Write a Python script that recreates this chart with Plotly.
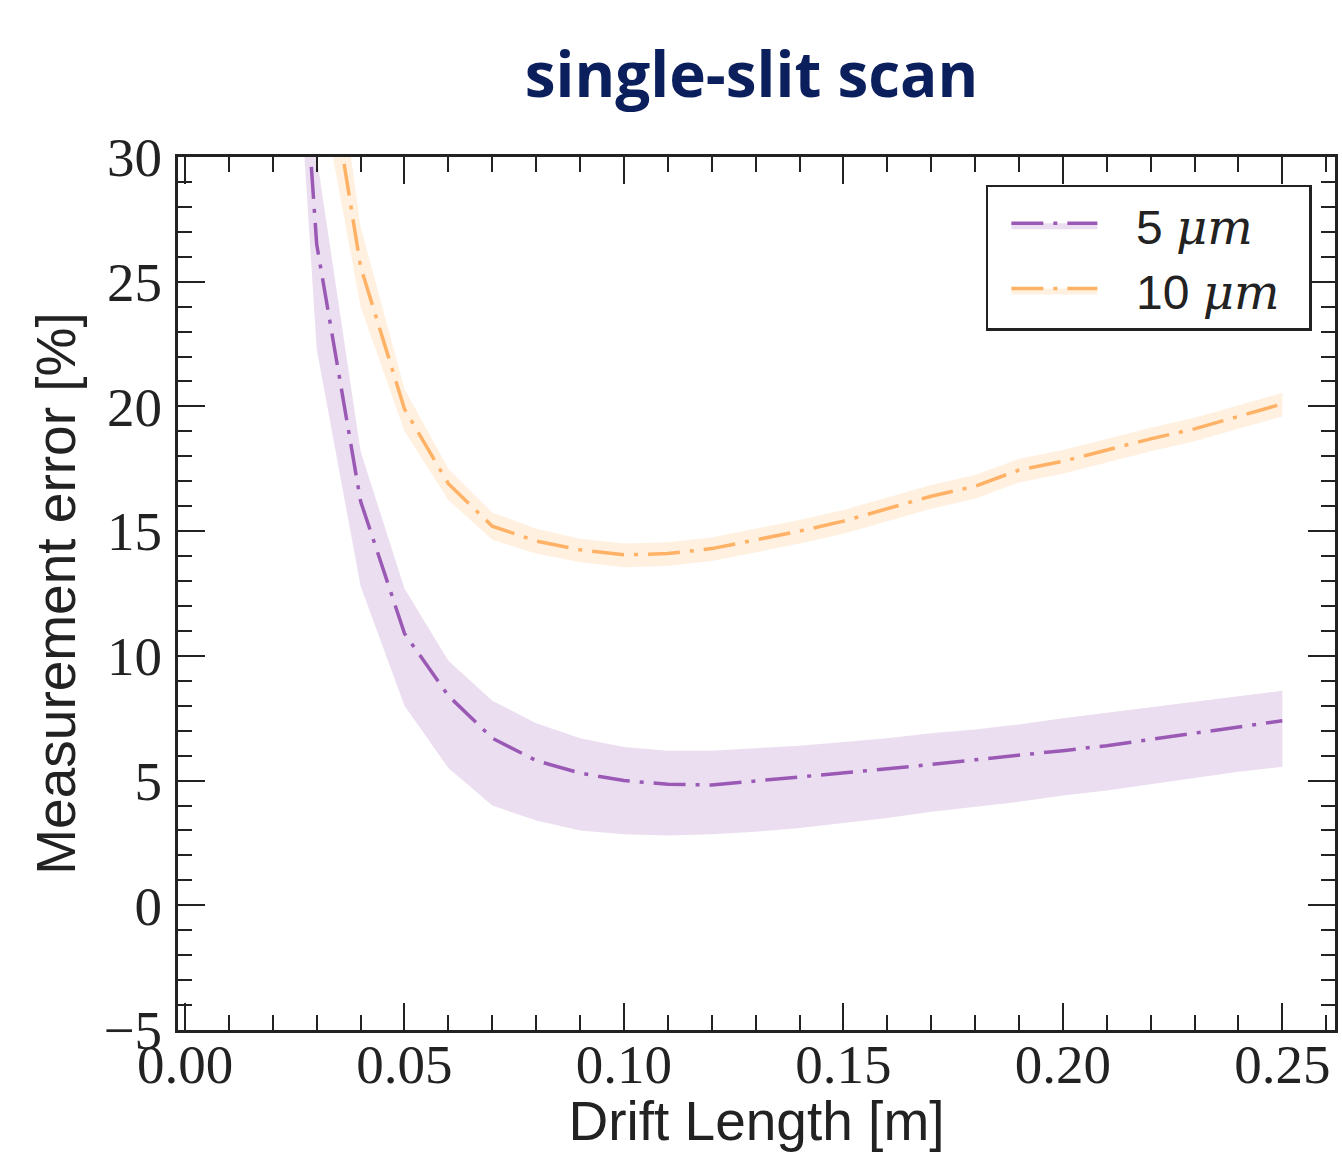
import plotly.graph_objects as go

# Drift length [m]
drift_length = [0.02, 0.03, 0.04, 0.05, 0.06, 0.07, 0.08, 0.09, 0.10, 0.11, 0.12, 0.13,
                0.14, 0.15, 0.16, 0.17, 0.18, 0.19, 0.20, 0.21, 0.22, 0.23, 0.24, 0.25]

# 5 um slit: central estimate and band
err_5um = [52, 26.5, 16.2, 10.9, 8.4, 6.7, 5.8, 5.3, 5.0, 4.85, 4.82, 4.98,
           5.13, 5.28, 5.47, 5.65, 5.83, 6.0, 6.2, 6.4, 6.65, 6.9, 7.15, 7.4]
err_5um_upper = [60, 30, 18.2, 12.7, 9.8, 8.2, 7.3, 6.7, 6.35, 6.2, 6.2, 6.3,
                 6.4, 6.55, 6.7, 6.9, 7.05, 7.25, 7.5, 7.72, 7.94, 8.16, 8.38, 8.6]
err_5um_lower = [50, 22.3, 12.8, 8.0, 5.5, 4.0, 3.4, 3.0, 2.85, 2.8, 2.85, 2.95,
                 3.1, 3.3, 3.5, 3.75, 3.95, 4.15, 4.4, 4.6, 4.85, 5.1, 5.35, 5.55]

# 10 um slit: central estimate and band
err_10um = [70, 36.6, 25.6, 19.9, 16.9, 15.2, 14.6, 14.25, 14.05, 14.1, 14.3, 14.65,
            15.0, 15.4, 15.9, 16.4, 16.8, 17.45, 17.8, 18.25, 18.7, 19.1, 19.6, 20.1]
err_10um_upper = [75, 40, 27.2, 20.7, 17.5, 15.75, 15.1, 14.7, 14.5, 14.55, 14.75, 15.1,
                  15.45, 15.85, 16.35, 16.85, 17.25, 17.9, 18.25, 18.7, 19.15, 19.55, 20.05, 20.55]
err_10um_lower = [65, 33.5, 24.0, 19.0, 16.25, 14.65, 14.1, 13.75, 13.55, 13.6, 13.8, 14.15,
                  14.5, 14.9, 15.4, 15.9, 16.3, 16.95, 17.3, 17.75, 18.2, 18.6, 19.1, 19.6]

series_names = ["5 <span style='font-family:DejaVu Serif'><i>μm</i></span>",
                "10 <span style='font-family:DejaVu Serif'><i>μm</i></span>"]
x_ticks = [0.00, 0.05, 0.10, 0.15, 0.20, 0.25]
x_tick_labels = ["0.00", "0.05", "0.10", "0.15", "0.20", "0.25"]
y_ticks = [-5, 0, 5, 10, 15, 20, 25, 30]

PURPLE = "#9B59B6"
PURPLE_FILL = "rgba(155,89,182,0.2)"
ORANGE = "#FFB266"
ORANGE_FILL = "rgba(255,178,102,0.2)"
DASH = "32px,10px,4px,10px"

fig = go.Figure()

def add_series(name, center, upper, lower, color, fillcolor):
    fig.add_trace(go.Scatter(x=drift_length, y=lower, mode="lines",
                             line=dict(width=0, color=fillcolor), showlegend=False,
                             hoverinfo="skip"))
    fig.add_trace(go.Scatter(x=drift_length, y=center, mode="lines", name=name,
                             line=dict(color=color, width=3.5, dash=DASH),
                             fill="tonexty", fillcolor=fillcolor))
    fig.add_trace(go.Scatter(x=drift_length, y=upper, mode="lines",
                             line=dict(width=0, color=fillcolor), showlegend=False,
                             fill="tonexty", fillcolor=fillcolor, hoverinfo="skip"))

add_series("\u2002\u2009" + series_names[0] + "\u2002", err_5um, err_5um_upper, err_5um_lower, PURPLE, PURPLE_FILL)
add_series("\u2002\u2009" + series_names[1] + "\u2002", err_10um, err_10um_upper, err_10um_lower, ORANGE, ORANGE_FILL)

tick_font = dict(family="Liberation Serif", size=55, color="#222222")
title_font = dict(family="Liberation Sans", size=55, color="#222222")

fig.update_xaxes(
    range=[-0.0016, 0.262],
    tickvals=x_ticks, ticktext=x_tick_labels,
    ticks="inside", ticklen=27, tickwidth=2, tickcolor="#222222",
    minor=dict(ticks="inside", ticklen=15, tickwidth=2, tickcolor="#222222", dtick=0.01, tick0=0),
    showline=True, linecolor="#222222", linewidth=3, mirror="allticks",
    showgrid=False, zeroline=False,
    tickfont=tick_font, ticklabelstandoff=-16,
    title=dict(text="Drift Length [m]", font=title_font, standoff=8),
)
fig.update_yaxes(
    range=[-5, 30],
    tickvals=y_ticks,
    ticks="inside", ticklen=27, tickwidth=2, tickcolor="#222222",
    minor=dict(ticks="inside", ticklen=14, tickwidth=2, tickcolor="#222222", dtick=1, tick0=0),
    showline=True, linecolor="#222222", linewidth=3, mirror="allticks",
    showgrid=False, zeroline=False,
    tickfont=tick_font, ticklabelstandoff=2,
    title=dict(text="Measurement error [%]", font=title_font, standoff=11),
)

fig.update_layout(
    width=1342, height=1152,
    margin=dict(l=178, r=4, t=157, b=122),
    paper_bgcolor="white", plot_bgcolor="white",
    title=dict(text="<b>single-slit scan</b>", x=0.56, xanchor="center", y=0.935, yanchor="middle",
               font=dict(family="Open Sans", size=62, color="#0B1F5C")),
    legend=dict(x=0.98, xanchor="right", y=0.968, yanchor="top",
                traceorder="normal", indentation=18,
                bgcolor="white", bordercolor="#222222", borderwidth=2.5,
                font=dict(family="Liberation Sans", size=48, color="#222222"),
                itemwidth=86, tracegroupgap=0),
    showlegend=True,
)

fig.write_html("out.html")
